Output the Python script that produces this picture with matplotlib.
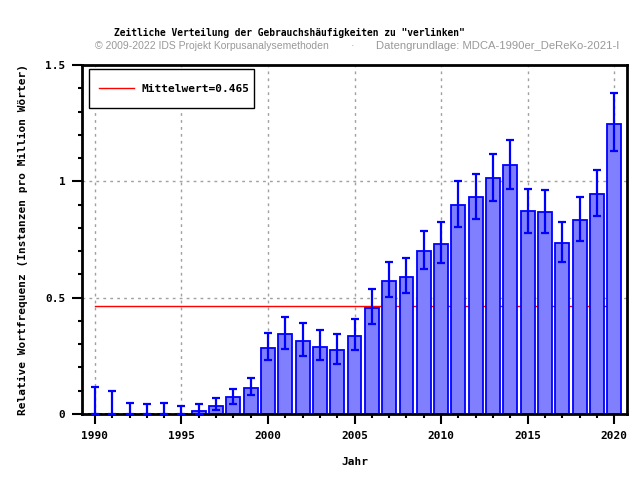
import matplotlib
matplotlib.use("Agg")
import matplotlib.pyplot as plt
import numpy as np
from matplotlib.patches import Rectangle
from matplotlib.ticker import MultipleLocator

years = list(range(1990, 2021))
freq = [0, 0, 0, 0, 0, 0, 0.013, 0.035, 0.071, 0.113,
        0.282, 0.342, 0.312, 0.290, 0.273, 0.334, 0.455, 0.572, 0.589, 0.701,
        0.732, 0.897, 0.932, 1.014, 1.069, 0.871, 0.867, 0.737, 0.832, 0.945,
        1.248]
err_high = [0.117, 0.100, 0.048, 0.043, 0.048, 0.035, 0.043, 0.067, 0.108, 0.156,
            0.347, 0.416, 0.390, 0.363, 0.342, 0.407, 0.536, 0.654, 0.672, 0.787,
            0.826, 1.000, 1.030, 1.117, 1.177, 0.969, 0.961, 0.826, 0.932, 1.049,
            1.378]
err_low = [0, 0, 0, 0, 0, 0, 0, 0.016, 0.042, 0.081,
           0.230, 0.280, 0.251, 0.234, 0.217, 0.277, 0.386, 0.501, 0.519, 0.623,
           0.650, 0.805, 0.839, 0.917, 0.969, 0.779, 0.779, 0.654, 0.744, 0.849,
           1.131]
mean_value = 0.465

title = 'Zeitliche Verteilung der Gebrauchshäufigkeiten zu "verlinken"'
copyright_text = "© 2009-2022 IDS Projekt Korpusanalysemethoden"
source_text = "Datengrundlage: MDCA-1990er_DeReKo-2021-I"

mono = "DejaVu Sans Mono"
sans = "Liberation Sans"

x = np.array(years, dtype=float)
y = np.array(freq)
yerr = np.vstack([y - np.array(err_low), np.array(err_high) - y])

fig = plt.figure(figsize=(6.4, 4.8), dpi=100)
ax = fig.add_axes([0.128, 0.1375, 0.852, 0.727])

ax.grid(True, which="major", color="#a0a0a0", linestyle=(0, (2, 3)), linewidth=1)
ax.set_axisbelow(True)

ax.plot([years[0], years[-1]], [mean_value, mean_value], color="#ff0000",
        linewidth=1, zorder=1.5, label=f"Mittelwert={mean_value}")

ax.bar(x, y, width=0.8, color="#8080ff", edgecolor="#0000ff", linewidth=1.3, zorder=2)
ax.errorbar(x, y, yerr=yerr, fmt="none", ecolor="#0000ff", elinewidth=1.6,
            capsize=3.2, capthick=1.6, zorder=3)

ax.set_xlim(1989.25, 2020.75)
ax.set_ylim(0, 1.5)
ax.xaxis.set_major_locator(MultipleLocator(5))
ax.xaxis.set_minor_locator(MultipleLocator(1))
ax.yaxis.set_major_locator(MultipleLocator(0.5))
ax.yaxis.set_minor_locator(MultipleLocator(0.1))
ax.set_yticks([0, 0.5, 1, 1.5])
ax.set_yticklabels(["0", "0.5", "1", "1.5"])

for spine in ax.spines.values():
    spine.set_linewidth(2)
ax.tick_params(which="major", length=7, width=1.5, pad=5)
ax.tick_params(which="minor", length=3, width=1.5)
for lbl in ax.get_xticklabels() + ax.get_yticklabels():
    lbl.set_fontfamily(mono)
    lbl.set_fontweight("bold")
    lbl.set_fontsize(8)

ax.set_xlabel("Jahr", family=mono, weight="bold", fontsize=8, labelpad=12)
ax.set_ylabel("Relative Wortfrequenz (Instanzen pro Million Wörter)",
              family=mono, weight="bold", fontsize=8, labelpad=12)

# legend box drawn by hand, it is taller than the default frame
ax.add_patch(Rectangle((0.0128, 0.8768), 0.3028, 0.1117, transform=ax.transAxes,
                       facecolor="white", edgecolor="black", linewidth=1, zorder=4))
leg = ax.legend(loc="center left", bbox_to_anchor=(0.0128, 0.9327), frameon=False,
                handlelength=3.2, borderpad=0.4, handletextpad=0.6,
                prop={"family": mono, "weight": "bold", "size": 8})
leg.set_zorder(5)

fig.text(0.452, 0.931, title, ha="center", va="center", family=mono,
         weight="bold", fontsize=6.9)
fig.text(0.148, 0.904, copyright_text, ha="left", va="center",
         family=sans, color="#999999", fontsize=7.5)
fig.text(0.55, 0.904, "·", ha="center", va="center",
         family=sans, color="#999999", fontsize=7.5)
fig.text(0.587, 0.904, source_text, ha="left", va="center",
         family=sans, color="#999999", fontsize=8.1)

fig.savefig("out.png", dpi=100)
